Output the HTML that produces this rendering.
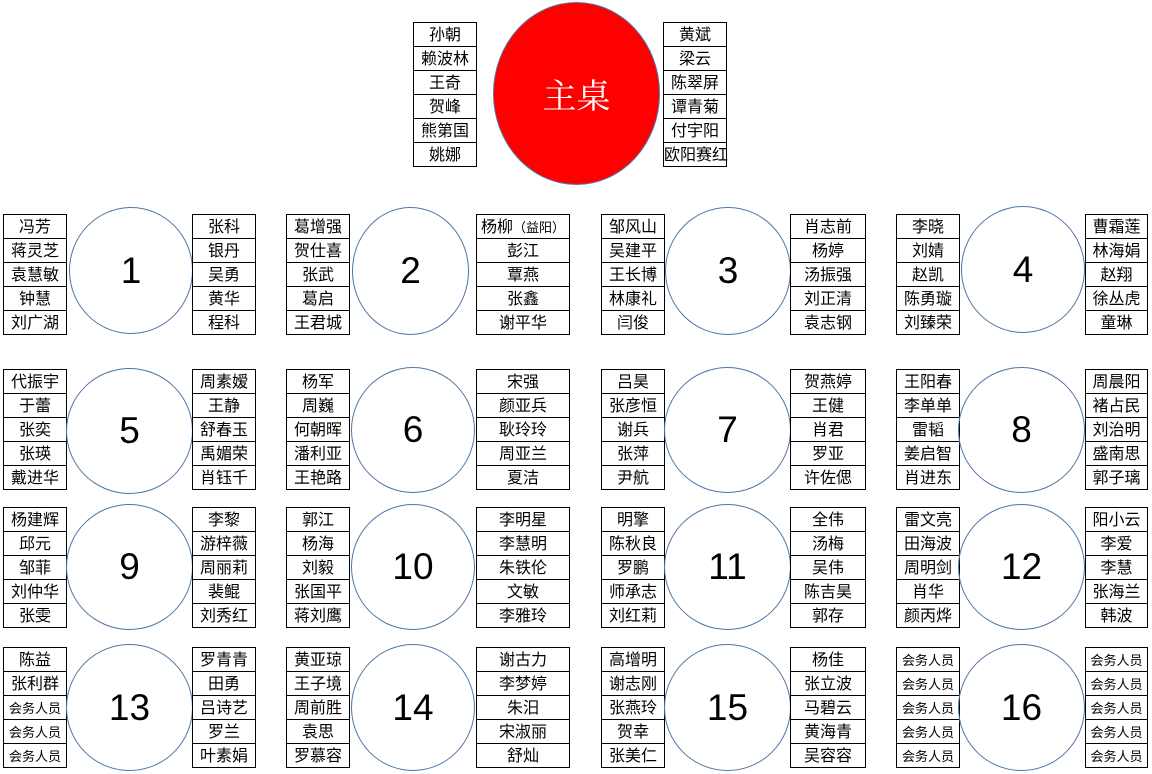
<!DOCTYPE html>
<html><head><meta charset="utf-8"><style>
body{margin:0;width:1152px;height:774px;background:#fff;position:relative;overflow:hidden;font-family:"Liberation Sans","Noto Sans CJK SC",sans-serif;color:#000}
.col{position:absolute;border:1px solid #000;border-bottom:none;box-sizing:border-box}
.c{height:24px;border-bottom:1px solid #000;box-sizing:border-box;line-height:25px;text-align:center;font-size:16px;white-space:nowrap;overflow:visible}
.s{font-size:13px}
.o{position:absolute;border:1.5px solid #4f76a6;border-radius:50%;box-sizing:border-box;display:flex;align-items:center;justify-content:center;font-size:37px;background:transparent}
</style></head><body>
<div class="col" style="left:413px;top:22px;width:64px"><div class="c">孙朝</div><div class="c">赖波林</div><div class="c">王奇</div><div class="c">贺峰</div><div class="c">熊第国</div><div class="c">姚娜</div></div>
<div style="position:absolute;left:493px;top:2px;width:167px;height:183px;border-radius:50%;background:#ff0000;border:1px solid #4f76a6;box-sizing:border-box;display:flex;align-items:center;justify-content:center;color:#fff;font-size:34px;font-family:'Liberation Serif','Noto Serif CJK SC',serif">主桌</div>
<div class="col" style="left:663px;top:22px;width:64px"><div class="c">黄斌</div><div class="c">梁云</div><div class="c">陈翠屏</div><div class="c">谭青菊</div><div class="c">付宇阳</div><div class="c">欧阳赛红</div></div>

<!-- row 1 -->
<div class="col" style="left:3px;top:214px;width:64px"><div class="c">冯芳</div><div class="c">蒋灵芝</div><div class="c">袁慧敏</div><div class="c">钟慧</div><div class="c">刘广湖</div></div>
<div class="o" style="left:69px;top:207px;width:124px;height:127px">1</div>
<div class="col" style="left:192px;top:214px;width:64px"><div class="c">张科</div><div class="c">银丹</div><div class="c">吴勇</div><div class="c">黄华</div><div class="c">程科</div></div>

<div class="col" style="left:286px;top:214px;width:64px"><div class="c">葛增强</div><div class="c">贺仕喜</div><div class="c">张武</div><div class="c">葛启</div><div class="c">王君城</div></div>
<div class="o" style="left:352px;top:207px;width:117px;height:128px">2</div>
<div class="col" style="left:476px;top:214px;width:94px"><div class="c">杨柳<span class="s">（益阳）</span></div><div class="c">彭江</div><div class="c">覃燕</div><div class="c">张鑫</div><div class="c">谢平华</div></div>

<div class="col" style="left:601px;top:214px;width:64px"><div class="c">邹风山</div><div class="c">吴建平</div><div class="c">王长博</div><div class="c">林康礼</div><div class="c">闫俊</div></div>
<div class="o" style="left:665px;top:207px;width:126px;height:128px">3</div>
<div class="col" style="left:790px;top:214px;width:76px"><div class="c">肖志前</div><div class="c">杨婷</div><div class="c">汤振强</div><div class="c">刘正清</div><div class="c">袁志钢</div></div>

<div class="col" style="left:896px;top:214px;width:64px"><div class="c">李晓</div><div class="c">刘婧</div><div class="c">赵凯</div><div class="c">陈勇璇</div><div class="c">刘臻荣</div></div>
<div class="o" style="left:961px;top:206px;width:124px;height:127px">4</div>
<div class="col" style="left:1085px;top:214px;width:63px"><div class="c">曹霜莲</div><div class="c">林海娟</div><div class="c">赵翔</div><div class="c">徐丛虎</div><div class="c">童琳</div></div>

<!-- row 2 -->
<div class="col" style="left:3px;top:369px;width:64px"><div class="c">代振宇</div><div class="c">于蕾</div><div class="c">张奕</div><div class="c">张瑛</div><div class="c">戴进华</div></div>
<div class="o" style="left:66px;top:368px;width:127px;height:126px">5</div>
<div class="col" style="left:192px;top:369px;width:64px"><div class="c">周素嫒</div><div class="c">王静</div><div class="c">舒春玉</div><div class="c">禹媚荣</div><div class="c">肖钰千</div></div>

<div class="col" style="left:286px;top:369px;width:64px"><div class="c">杨军</div><div class="c">周巍</div><div class="c">何朝晖</div><div class="c">潘利亚</div><div class="c">王艳路</div></div>
<div class="o" style="left:351px;top:367px;width:124px;height:126px">6</div>
<div class="col" style="left:476px;top:369px;width:94px"><div class="c">宋强</div><div class="c">颜亚兵</div><div class="c">耿玲玲</div><div class="c">周亚兰</div><div class="c">夏洁</div></div>

<div class="col" style="left:601px;top:369px;width:64px"><div class="c">吕昊</div><div class="c">张彦恒</div><div class="c">谢兵</div><div class="c">张萍</div><div class="c">尹航</div></div>
<div class="o" style="left:664px;top:367px;width:127px;height:126px">7</div>
<div class="col" style="left:790px;top:369px;width:76px"><div class="c">贺燕婷</div><div class="c">王健</div><div class="c">肖君</div><div class="c">罗亚</div><div class="c">许佐偲</div></div>

<div class="col" style="left:896px;top:369px;width:64px"><div class="c">王阳春</div><div class="c">李单单</div><div class="c">雷韬</div><div class="c">姜启智</div><div class="c">肖进东</div></div>
<div class="o" style="left:958px;top:367px;width:127px;height:126px">8</div>
<div class="col" style="left:1085px;top:369px;width:63px"><div class="c">周晨阳</div><div class="c">褚占民</div><div class="c">刘治明</div><div class="c">盛南思</div><div class="c">郭子璃</div></div>

<!-- row 3 -->
<div class="col" style="left:3px;top:507px;width:64px"><div class="c">杨建辉</div><div class="c">邱元</div><div class="c">邹菲</div><div class="c">刘仲华</div><div class="c">张雯</div></div>
<div class="o" style="left:66px;top:504px;width:127px;height:126px">9</div>
<div class="col" style="left:192px;top:507px;width:64px"><div class="c">李黎</div><div class="c">游梓薇</div><div class="c">周丽莉</div><div class="c">裴鲲</div><div class="c">刘秀红</div></div>

<div class="col" style="left:286px;top:507px;width:64px"><div class="c">郭江</div><div class="c">杨海</div><div class="c">刘毅</div><div class="c">张国平</div><div class="c">蒋刘鹰</div></div>
<div class="o" style="left:351px;top:504px;width:124px;height:126px">10</div>
<div class="col" style="left:476px;top:507px;width:94px"><div class="c">李明星</div><div class="c">李慧明</div><div class="c">朱铁伦</div><div class="c">文敏</div><div class="c">李雅玲</div></div>

<div class="col" style="left:601px;top:507px;width:64px"><div class="c">明擎</div><div class="c">陈秋良</div><div class="c">罗鹏</div><div class="c">师承志</div><div class="c">刘红莉</div></div>
<div class="o" style="left:664px;top:504px;width:127px;height:126px">11</div>
<div class="col" style="left:790px;top:507px;width:76px"><div class="c">全伟</div><div class="c">汤梅</div><div class="c">吴伟</div><div class="c">陈吉昊</div><div class="c">郭存</div></div>

<div class="col" style="left:896px;top:507px;width:64px"><div class="c">雷文亮</div><div class="c">田海波</div><div class="c">周明剑</div><div class="c">肖华</div><div class="c">颜丙烨</div></div>
<div class="o" style="left:958px;top:504px;width:127px;height:126px">12</div>
<div class="col" style="left:1085px;top:507px;width:63px"><div class="c">阳小云</div><div class="c">李爱</div><div class="c">李慧</div><div class="c">张海兰</div><div class="c">韩波</div></div>

<!-- row 4 -->
<div class="col" style="left:3px;top:647px;width:64px"><div class="c">陈益</div><div class="c">张利群</div><div class="c s">会务人员</div><div class="c s">会务人员</div><div class="c s">会务人员</div></div>
<div class="o" style="left:66px;top:644px;width:127px;height:127px">13</div>
<div class="col" style="left:192px;top:647px;width:64px"><div class="c">罗青青</div><div class="c">田勇</div><div class="c">吕诗艺</div><div class="c">罗兰</div><div class="c">叶素娟</div></div>

<div class="col" style="left:286px;top:647px;width:64px"><div class="c">黄亚琼</div><div class="c">王子境</div><div class="c">周前胜</div><div class="c">袁思</div><div class="c">罗慕容</div></div>
<div class="o" style="left:351px;top:644px;width:124px;height:127px">14</div>
<div class="col" style="left:476px;top:647px;width:94px"><div class="c">谢古力</div><div class="c">李梦婷</div><div class="c">朱汨</div><div class="c">宋淑丽</div><div class="c">舒灿</div></div>

<div class="col" style="left:601px;top:647px;width:64px"><div class="c">高增明</div><div class="c">谢志刚</div><div class="c">张燕玲</div><div class="c">贺幸</div><div class="c">张美仁</div></div>
<div class="o" style="left:664px;top:644px;width:127px;height:127px">15</div>
<div class="col" style="left:790px;top:647px;width:76px"><div class="c">杨佳</div><div class="c">张立波</div><div class="c">马碧云</div><div class="c">黄海青</div><div class="c">吴容容</div></div>

<div class="col" style="left:896px;top:647px;width:64px"><div class="c s">会务人员</div><div class="c s">会务人员</div><div class="c s">会务人员</div><div class="c s">会务人员</div><div class="c s">会务人员</div></div>
<div class="o" style="left:958px;top:644px;width:127px;height:127px">16</div>
<div class="col" style="left:1085px;top:647px;width:63px"><div class="c s">会务人员</div><div class="c s">会务人员</div><div class="c s">会务人员</div><div class="c s">会务人员</div><div class="c s">会务人员</div></div>
</body></html>
